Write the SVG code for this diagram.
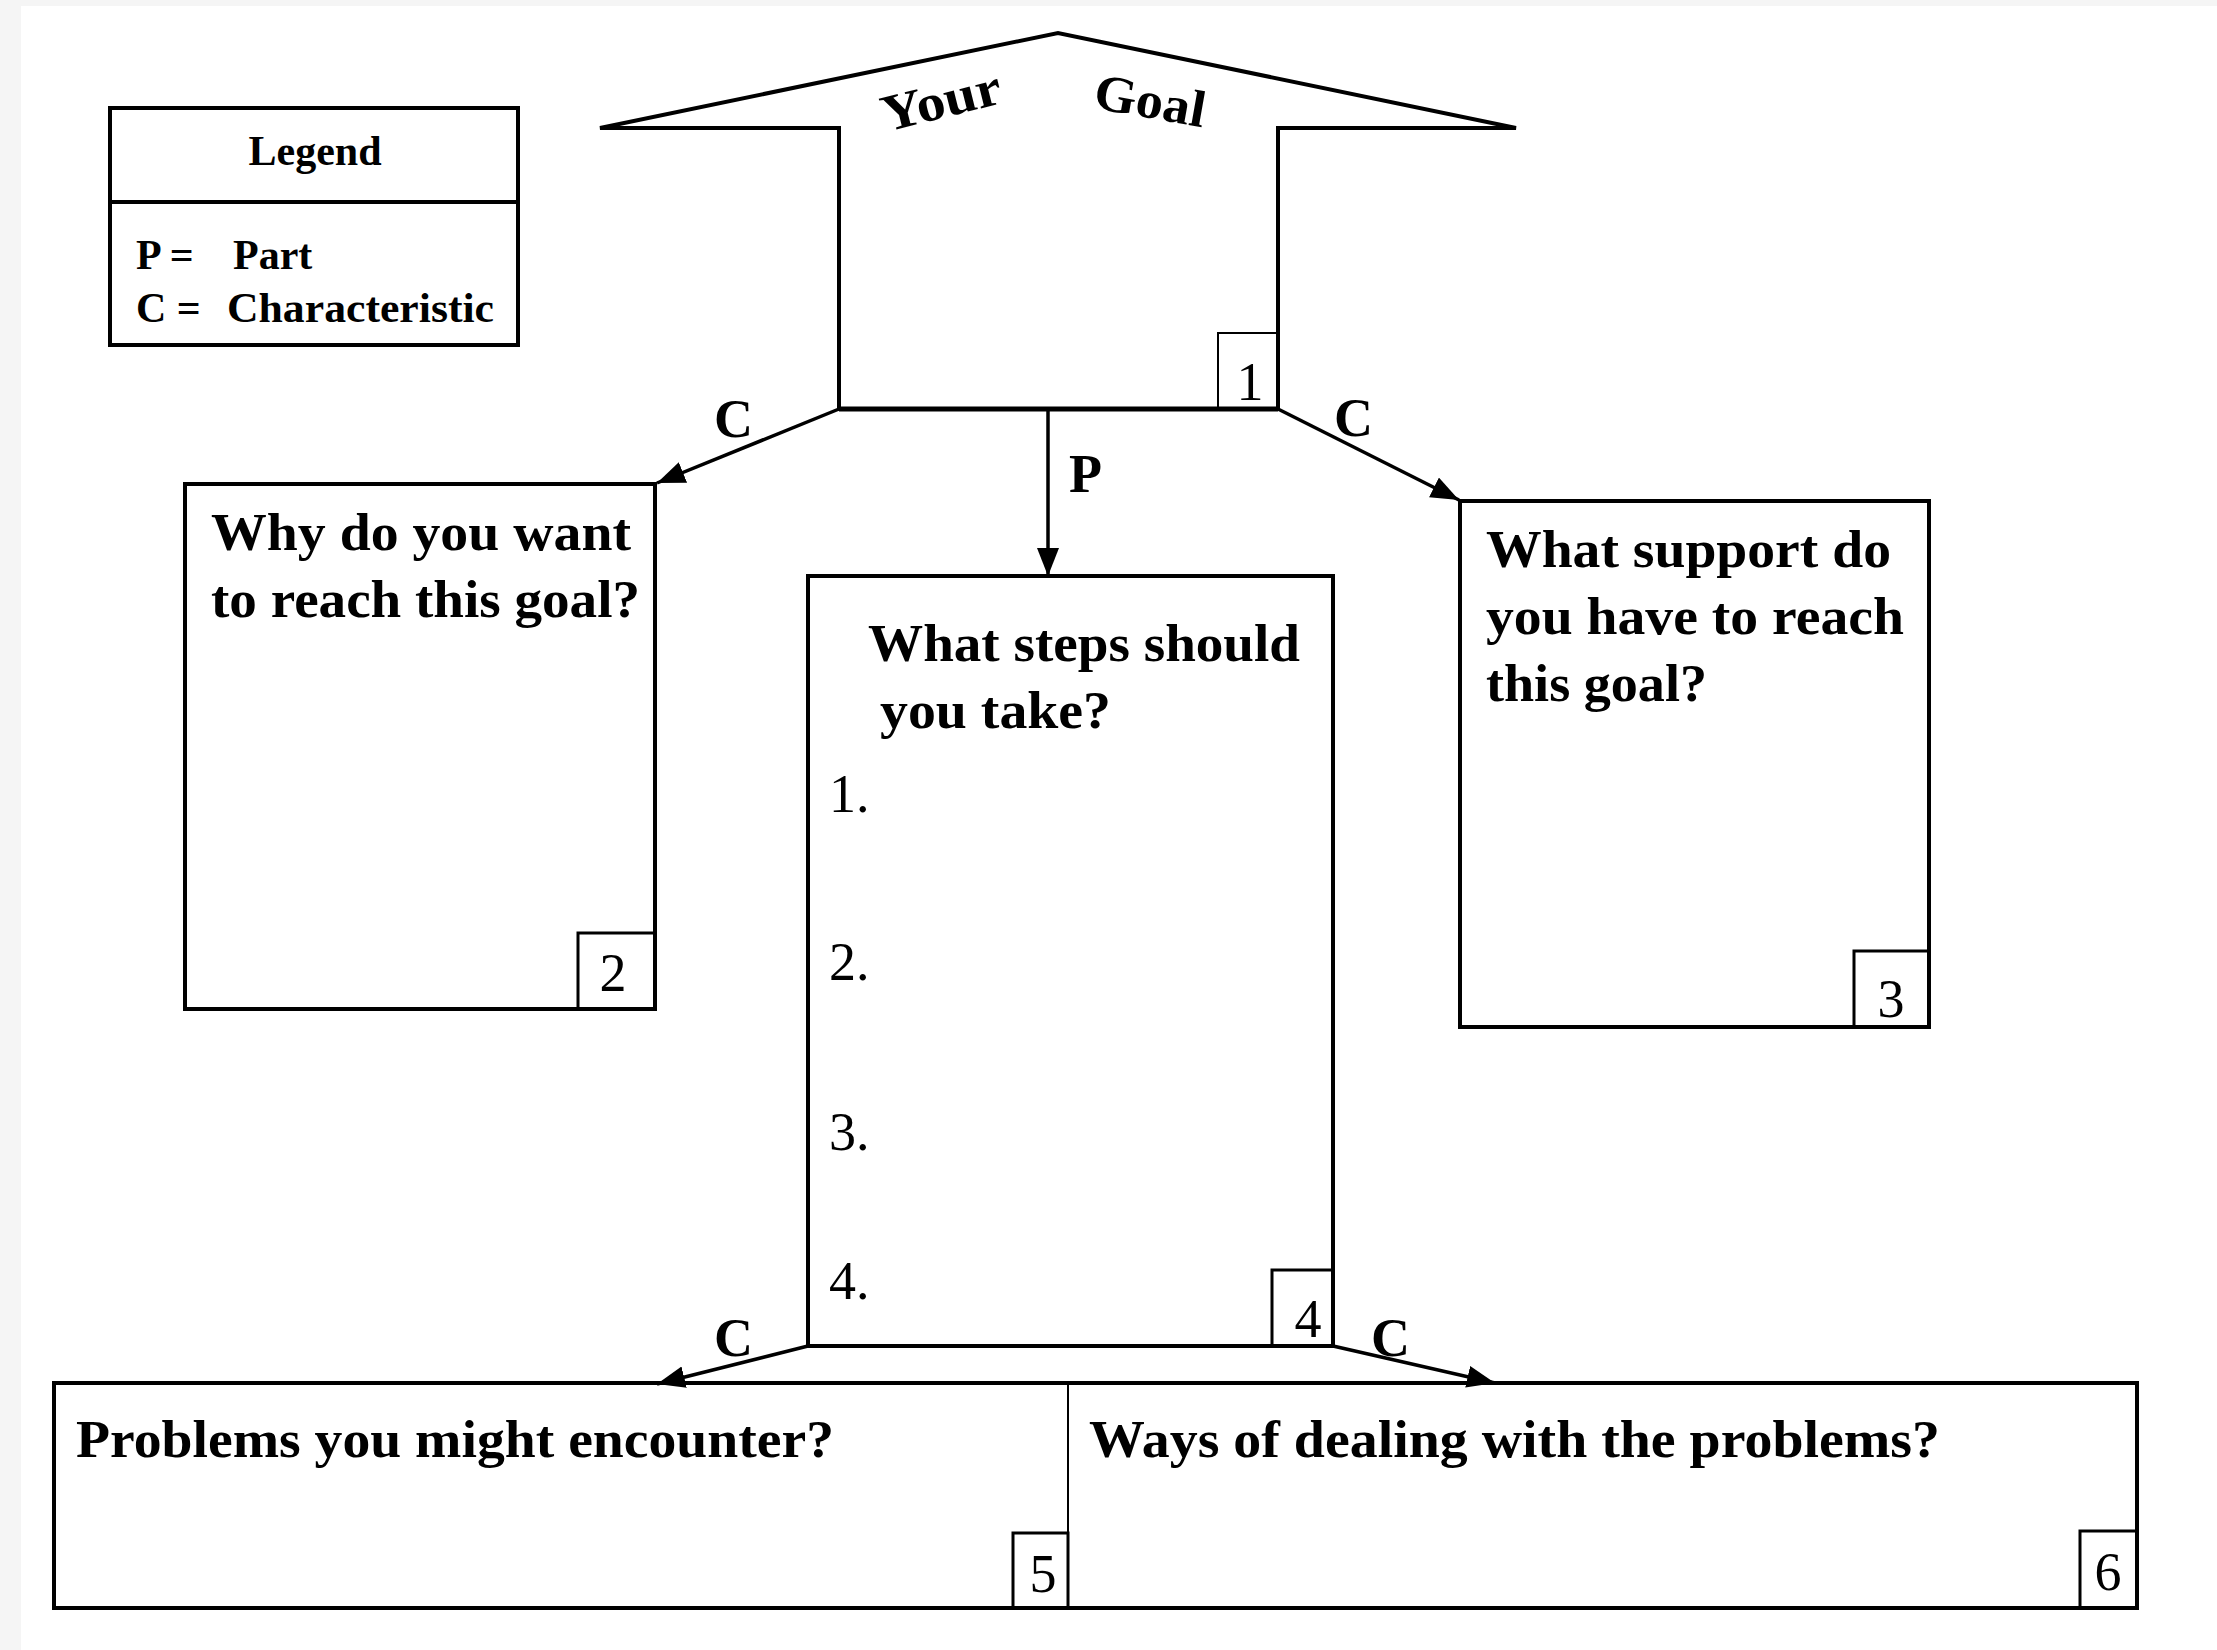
<svg xmlns="http://www.w3.org/2000/svg" width="2217" height="1650" viewBox="0 0 2217 1650">
  <style>
    .box { fill: none; stroke: #000; stroke-width: 4; }
    .num { fill: none; stroke: #000; stroke-width: 3; }
    .thin { fill: none; stroke: #000; stroke-width: 2; }
    .edge { fill: none; stroke: #000; stroke-width: 3.5; }
    .q { font-family: "Liberation Serif", "Times New Roman", serif; font-weight: bold; font-size: 52px; fill: #000; }
    .lbl { font-family: "Liberation Serif", "Times New Roman", serif; font-weight: bold; font-size: 54px; fill: #000; }
    .leg { font-family: "Liberation Serif", "Times New Roman", serif; font-weight: bold; font-size: 42px; fill: #000; }
    .n { font-family: "Liberation Serif", "Times New Roman", serif; font-size: 54px; fill: #000; }
  </style>
  <defs>
    <marker id="arrow" markerUnits="userSpaceOnUse" markerWidth="30" markerHeight="24" refX="28" refY="11" orient="auto">
      <path d="M0,0 L28,11 L0,22 Z" fill="#000"/>
    </marker>
  </defs>

  <!-- page -->
  <rect x="0" y="0" width="2217" height="1650" fill="#f5f5f5"/>
  <rect x="21" y="6" width="2196" height="1644" fill="#fff"/>

  <!-- legend -->
  <g id="legend">
    <rect class="box" x="110" y="108" width="408" height="237"/>
    <line class="box" x1="110" y1="202" x2="518" y2="202"/>
    <text class="leg" x="315" y="165" text-anchor="middle">Legend</text>
    <text class="leg" y="269"><tspan x="136">P =</tspan><tspan x="233">Part</tspan></text>
    <text class="leg" y="322"><tspan x="136">C =</tspan><tspan x="227" textLength="267" lengthAdjust="spacingAndGlyphs">Characteristic</tspan></text>
  </g>

  <!-- node 1: the goal -->
  <g id="node-goal">
    <path d="M600,128 L1058,33 L1516,128 L1278,128 L1278,409 L839,409 L839,128 Z" fill="#fff" stroke="#000" stroke-width="4" stroke-linejoin="miter" stroke-miterlimit="2"/>
    <line x1="839" y1="409" x2="1278" y2="409" stroke="#000" stroke-width="5"/>
    <text class="q" font-size="56" transform="translate(886,132) rotate(-14)" textLength="122" lengthAdjust="spacingAndGlyphs">Your</text>
    <text class="q" font-size="55" transform="translate(1092,108) rotate(10)" textLength="112" lengthAdjust="spacingAndGlyphs">Goal</text>
    <rect class="thin" x="1218" y="333" width="60" height="76"/>
    <text class="n" x="1250" y="400" text-anchor="middle">1</text>
  </g>

  <!-- node 2 -->
  <g id="node-why">
    <rect class="box" x="185" y="484" width="470" height="525"/>
    <text class="q" x="211" y="550" textLength="420" lengthAdjust="spacingAndGlyphs">Why do you want</text>
    <text class="q" x="211" y="617" textLength="429" lengthAdjust="spacingAndGlyphs">to reach this goal?</text>
    <rect class="num" x="578" y="933" width="77" height="76"/>
    <text class="n" x="613" y="991" text-anchor="middle">2</text>
  </g>

  <!-- node 3 -->
  <g id="node-support">
    <rect class="box" x="1460" y="501" width="469" height="526"/>
    <text class="q" x="1486" y="567" textLength="405" lengthAdjust="spacingAndGlyphs">What support do</text>
    <text class="q" x="1486" y="634" textLength="418" lengthAdjust="spacingAndGlyphs">you have to reach</text>
    <text class="q" x="1486" y="701" textLength="221" lengthAdjust="spacingAndGlyphs">this goal?</text>
    <rect class="num" x="1854" y="951" width="75" height="76"/>
    <text class="n" x="1891" y="1017" text-anchor="middle">3</text>
  </g>

  <!-- node 4 -->
  <g id="node-steps">
    <rect class="box" x="808" y="576" width="525" height="770" stroke-width="3.5"/>
    <text class="q" x="868" y="661" textLength="432" lengthAdjust="spacingAndGlyphs">What steps should</text>
    <text class="q" x="880" y="728" textLength="231" lengthAdjust="spacingAndGlyphs">you take?</text>
    <text class="n" x="829" y="812">1.</text>
    <text class="n" x="829" y="980">2.</text>
    <text class="n" x="829" y="1150">3.</text>
    <text class="n" x="829" y="1299">4.</text>
    <rect class="num" x="1272" y="1270" width="61" height="76"/>
    <text class="n" x="1308" y="1337" text-anchor="middle">4</text>
  </g>

  <!-- node 5 -->
  <g id="node-problems">
    <path class="box" d="M1068,1383 L54,1383 L54,1608 L1068,1608"/>
    <text class="q" x="76" y="1457" textLength="758" lengthAdjust="spacingAndGlyphs">Problems you might encounter?</text>
    <rect class="num" x="1013" y="1533" width="55" height="75"/>
    <text class="n" x="1043" y="1592" text-anchor="middle">5</text>
  </g>

  <!-- node 6 -->
  <g id="node-ways">
    <path class="box" d="M1068,1383 L2137,1383 L2137,1608 L1068,1608"/>
    <line class="thin" x1="1068" y1="1383" x2="1068" y2="1608"/>
    <text class="q" x="1089" y="1457" textLength="851" lengthAdjust="spacingAndGlyphs">Ways of dealing with the problems?</text>
    <rect class="num" x="2080" y="1531" width="57" height="77"/>
    <text class="n" x="2108" y="1590" text-anchor="middle">6</text>
  </g>

  <!-- connectors -->
  <g id="connectors">
    <line class="edge" x1="839" y1="409" x2="657" y2="483" marker-end="url(#arrow)"/>
    <line class="edge" x1="1278" y1="409" x2="1459" y2="500" marker-end="url(#arrow)"/>
    <line class="edge" x1="1048" y1="409" x2="1048" y2="576" marker-end="url(#arrow)"/>
    <line class="edge" x1="808" y1="1346" x2="657" y2="1384" marker-end="url(#arrow)"/>
    <line class="edge" x1="1333" y1="1346" x2="1495" y2="1383" marker-end="url(#arrow)"/>
    <text class="lbl" x="714" y="437">C</text>
    <text class="lbl" x="1334" y="436">C</text>
    <text class="lbl" x="1069" y="492" font-size="50">P</text>
    <text class="lbl" x="714" y="1356">C</text>
    <text class="lbl" x="1371" y="1356">C</text>
  </g>
</svg>
